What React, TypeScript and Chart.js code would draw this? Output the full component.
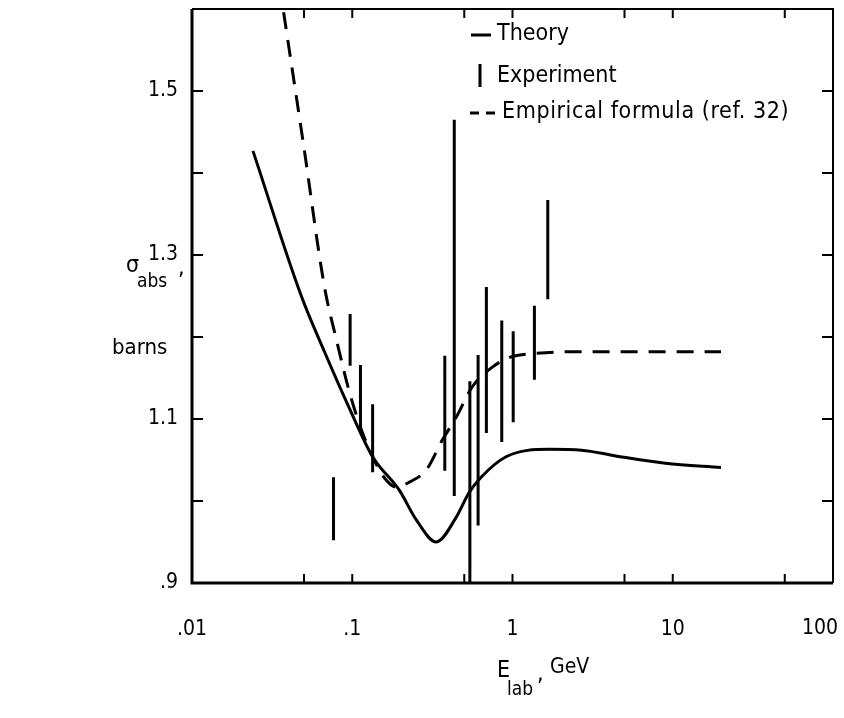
import React, { useEffect, useRef } from 'react';
import { Chart, registerables } from 'chart.js';

Chart.register(...registerables);

// ---- data ----
const theoryE = [0.024, 0.0483, 0.0671, 0.096, 0.134, 0.197, 0.251, 0.334, 0.445, 0.535, 0.637, 0.912, 1.69, 2.7, 4.4, 9.0, 20];
const theorySigma = [1.427, 1.249, 1.182, 1.113, 1.054, 1.013, 0.977, 0.95, 0.98, 1.01, 1.029, 1.054, 1.063, 1.062, 1.055, 1.046, 1.041];

const empiricalE = [0.0373, 0.0497, 0.0671, 0.0798, 0.096, 0.114, 0.134, 0.159, 0.188, 0.227, 0.29, 0.364, 0.445, 0.56, 0.745, 0.99, 1.4, 2.24, 20];
const empiricalSigma = [1.596, 1.434, 1.261, 1.196, 1.133, 1.087, 1.054, 1.028, 1.017, 1.023, 1.038, 1.074, 1.102, 1.139, 1.163, 1.176, 1.18, 1.182, 1.182];

const expE = [0.0764, 0.097, 0.1125, 0.134, 0.378, 0.433, 0.542, 0.61, 0.687, 0.857, 1.01, 1.37, 1.66];
const expLow = [0.952, 1.165, 1.088, 1.035, 1.037, 1.006, 0.89, 0.97, 1.083, 1.072, 1.096, 1.148, 1.246];
const expHigh = [1.029, 1.228, 1.166, 1.118, 1.177, 1.465, 1.146, 1.178, 1.261, 1.22, 1.207, 1.238, 1.367];

const xTickValues = [0.01, 0.05, 0.1, 0.5, 1, 5, 10, 50, 100];
const xTickLabels: Record<string, string> = { '0.01': '.01', '0.1': '.1', '1': '1', '10': '10' };
const xLastLabel = '100';
const yTickLabels: Record<string, string> = { '0.9': '.9', '1.1': '1.1', '1.3': '1.3', '1.5': '1.5' };

const legendLabels = ['Theory', 'Experiment', 'Empirical formula (ref. 32)'];

const FONT = '"DejaVu Sans Condensed", "Liberation Sans Narrow", "DejaVu Sans", sans-serif';

const framePlugin = {
  id: 'frameTicks',
  afterDatasetsDraw(chart: any) {
    const { ctx, chartArea, scales } = chart;
    const { left, right, top, bottom } = chartArea;
    ctx.save();
    ctx.strokeStyle = '#000';
    ctx.lineCap = 'butt';
    ctx.lineWidth = 3;
    ctx.beginPath();
    ctx.moveTo(left, top);
    ctx.lineTo(left, bottom);
    ctx.lineTo(right, bottom);
    ctx.stroke();
    ctx.lineWidth = 2;
    ctx.beginPath();
    ctx.moveTo(left, top);
    ctx.lineTo(right, top);
    ctx.lineTo(right, bottom);
    ctx.stroke();
    ctx.lineWidth = 2;
    const xs = scales.x;
    xs.ticks.forEach((t: any) => {
      const px = xs.getPixelForValue(t.value);
      if (px <= left + 2 || px >= right - 2) return;
      ctx.beginPath();
      ctx.moveTo(px, bottom);
      ctx.lineTo(px, bottom - 9);
      ctx.moveTo(px, top);
      ctx.lineTo(px, top + 9);
      ctx.stroke();
    });
    const ys = scales.y;
    ys.ticks.forEach((t: any) => {
      const py = ys.getPixelForValue(t.value);
      if (py <= top + 2 || py >= bottom - 2) return;
      ctx.beginPath();
      ctx.moveTo(left, py);
      ctx.lineTo(left + 11, py);
      ctx.moveTo(right, py);
      ctx.lineTo(right - 11, py);
      ctx.stroke();
    });
    ctx.restore();
  },
  afterDraw(chart: any) {
    const { ctx, scales, chartArea } = chart;
    ctx.save();
    ctx.fillStyle = '#000';
    ctx.strokeStyle = '#000';
    ctx.textBaseline = 'middle';
    ctx.textAlign = 'center';
    // last x tick label, pulled inside the canvas as in the reference
    ctx.font = `21px ${FONT}`;
    ctx.fillText(xLastLabel, scales.x.getPixelForValue(100) - 13, chartArea.bottom + 46);
    ctx.textAlign = 'left';
    // legend
    ctx.font = `23px ${FONT}`;
    ctx.lineWidth = 3;
    ctx.beginPath();
    ctx.moveTo(471, 35);
    ctx.lineTo(491, 35);
    ctx.stroke();
    ctx.fillText(legendLabels[0], 497, 34);
    ctx.beginPath();
    ctx.moveTo(480, 64);
    ctx.lineTo(480, 87);
    ctx.stroke();
    ctx.fillText(legendLabels[1], 497, 76);
    ctx.beginPath();
    ctx.moveTo(470, 113);
    ctx.lineTo(479, 113);
    ctx.moveTo(486, 113);
    ctx.lineTo(495, 113);
    ctx.stroke();
    (ctx as any).letterSpacing = '0.6px';
    ctx.fillText(legendLabels[2], 502, 112);
    (ctx as any).letterSpacing = '0px';
    // y-axis title
    ctx.font = `23px ${FONT}`;
    ctx.fillText('\u03C3', 126, 266);
    ctx.font = `19px ${FONT}`;
    ctx.fillText('abs', 137, 282);
    ctx.font = `23px ${FONT}`;
    ctx.fillText(',', 178, 268);
    ctx.font = `22px ${FONT}`;
    ctx.fillText('barns', 112, 348);
    // x-axis title
    ctx.font = `23px ${FONT}`;
    ctx.fillText('E', 497, 671);
    ctx.font = `19px ${FONT}`;
    ctx.fillText('lab', 507, 690);
    ctx.font = `23px ${FONT}`;
    ctx.fillText(',', 537, 674);
    ctx.font = `21px ${FONT}`;
    ctx.fillText('GeV', 550, 668);
    ctx.restore();
  },
};

function buildExperiment() {
  const pts: { x: number; y: number | null }[] = [];
  expE.forEach((e, i) => {
    pts.push({ x: e, y: expLow[i] });
    pts.push({ x: e, y: expHigh[i] });
    pts.push({ x: e, y: null });
  });
  return pts;
}

export default function App() {
  const ref = useRef<HTMLCanvasElement>(null);
  useEffect(() => {
    document.body.style.margin = '0';
    const canvas = ref.current!;
    const chart = new Chart(canvas, {
      type: 'line',
      data: {
        datasets: [
          {
            label: legendLabels[0],
            data: theoryE.map((x, i) => ({ x, y: theorySigma[i] })),
            borderColor: '#000',
            borderWidth: 3,
            pointRadius: 0,
            cubicInterpolationMode: 'monotone',
            fill: false,
          },
          {
            label: legendLabels[2],
            data: empiricalE.map((x, i) => ({ x, y: empiricalSigma[i] })),
            borderColor: '#000',
            borderWidth: 3,
            borderDash: [17, 11],
            pointRadius: 0,
            cubicInterpolationMode: 'monotone',
            fill: false,
          },
          {
            label: legendLabels[1],
            data: buildExperiment() as any,
            borderColor: '#000',
            borderWidth: 3,
            pointRadius: 0,
            spanGaps: false,
            fill: false,
          },
        ],
      },
      options: {
        animation: false,
        responsive: false,
        maintainAspectRatio: false,
        layout: { autoPadding: false, padding: { top: 9, right: 11, left: 0, bottom: 0 } },
        plugins: { legend: { display: false }, tooltip: { enabled: false } },
        scales: {
          x: {
            type: 'logarithmic',
            min: 0.01,
            max: 100,
            afterBuildTicks: (s: any) => {
              s.ticks = xTickValues.map((v) => ({ value: v }));
            },
            afterFit: (s: any) => {
              s.height = 135;
              s.paddingLeft = 0;
              s.paddingRight = 0;
            },
            ticks: {
              autoSkip: false,
              maxRotation: 0,
              minRotation: 0,
              padding: 34,
              color: '#000',
              font: { family: FONT, size: 21 },
              callback: (v: any) => {
                const key = String(Number(Number(v).toPrecision(6)));
                return xTickLabels[key] ?? '';
              },
            },
            grid: { display: false, drawTicks: false },
            border: { display: false },
          },
          y: {
            type: 'linear',
            min: 0.9,
            max: 1.6,
            afterFit: (s: any) => {
              s.width = 192;
              s.paddingTop = 0;
              s.paddingBottom = 0;
            },
            ticks: {
              stepSize: 0.1,
              padding: 14,
              color: '#000',
              font: { family: FONT, size: 21 },
              callback: (v: any) => {
                const key = String(Math.round(Number(v) * 10) / 10);
                return yTickLabels[key] ?? '';
              },
            },
            grid: { display: false, drawTicks: false },
            border: { display: false },
          },
        },
      },
      plugins: [framePlugin],
    });
    return () => chart.destroy();
  }, []);
  return (
    <div style={{ width: 844, height: 718 }}>
      <canvas ref={ref} width={844} height={718} style={{ display: 'block' }} />
    </div>
  );
}
